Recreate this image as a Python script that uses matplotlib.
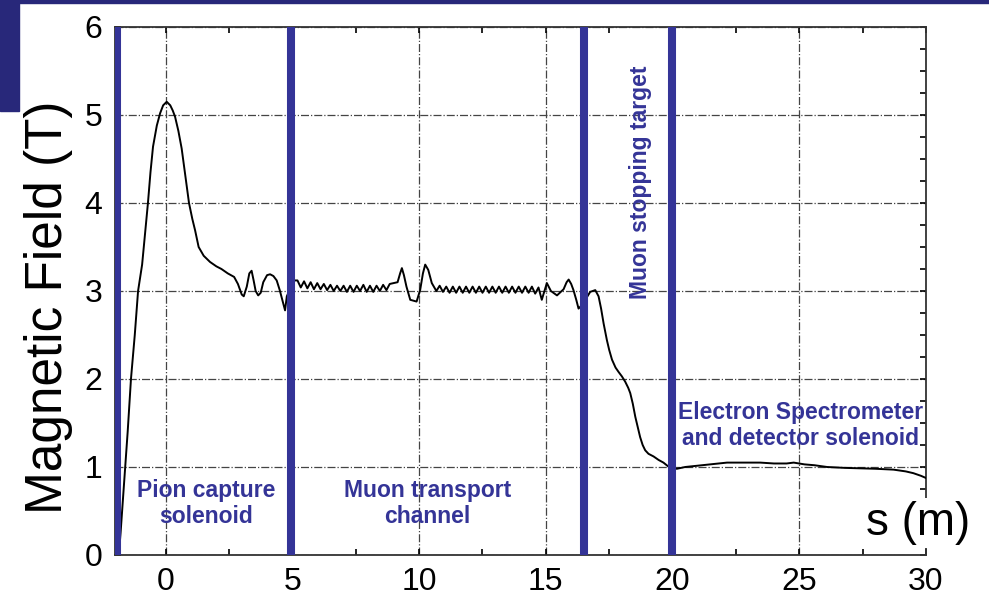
import matplotlib.pyplot as plt
import matplotlib.ticker as ticker
from matplotlib.patches import Rectangle

plt.rcParams['font.family'] = ['Liberation Sans', 'DejaVu Sans']

# field profile along the beam line
s = [-1.85, -1.78, -1.72, -1.66, -1.60, -1.50, -1.37, -1.22, -1.09, -0.93,
     -0.80, -0.70, -0.60, -0.50, -0.35, -0.22, -0.10, 0.04, 0.18, 0.28,
     0.37, 0.50, 0.63, 0.78, 0.92, 1.05, 1.16, 1.30, 1.50, 1.75,
     2.00, 2.20, 2.45, 2.70, 2.85, 3.00, 3.08, 3.20, 3.30, 3.39,
     3.47, 3.55, 3.65, 3.75, 3.85, 4.00, 4.12, 4.25, 4.38, 4.50,
     4.60, 4.71, 4.78, 4.95, 5.07,
     5.20, 5.33, 5.46, 5.59, 5.72, 5.85, 5.98, 6.11, 6.24, 6.37,
     6.50, 6.63, 6.76, 6.89, 7.02, 7.15, 7.28, 7.41, 7.54, 7.67,
     7.80, 7.93, 8.06, 8.19, 8.32, 8.45, 8.58, 8.71, 8.84, 8.99,
     9.15, 9.25, 9.32, 9.40, 9.50, 9.65, 9.90, 10.04, 10.15, 10.24,
     10.36, 10.50,
     10.68, 10.81, 10.94, 11.07, 11.20, 11.33, 11.46, 11.59, 11.72, 11.85,
     11.98, 12.11, 12.24, 12.37, 12.50, 12.63, 12.76, 12.89, 13.02, 13.15,
     13.28, 13.41, 13.54, 13.67, 13.80, 13.93, 14.06, 14.19, 14.32, 14.45,
     14.58, 14.71, 14.84, 15.04, 15.20, 15.44, 15.70, 15.82, 15.90, 16.00,
     16.09, 16.20, 16.29, 16.45, 16.75, 16.95, 17.08, 17.18, 17.28, 17.35,
     17.41, 17.50, 17.61, 17.75, 17.87, 18.00, 18.13, 18.25, 18.33, 18.43,
     18.53, 18.63, 18.72, 18.82, 18.92, 19.05, 19.25, 19.45, 19.64, 19.90,
     20.17, 20.50, 20.83, 21.50, 22.15, 22.80, 23.46, 24.00, 24.50, 24.78,
     25.20, 25.60, 26.10, 26.80, 27.41, 28.00, 28.72, 29.20, 29.50, 29.80,
     30.04]
B = [0.00, 0.25, 0.50, 0.75, 1.00, 1.40, 2.00, 2.50, 3.00, 3.30,
     3.70, 4.00, 4.35, 4.64, 4.88, 5.02, 5.11, 5.15, 5.11, 5.05,
     4.98, 4.82, 4.62, 4.30, 4.00, 3.82, 3.69, 3.50, 3.40, 3.33,
     3.28, 3.25, 3.20, 3.16, 3.08, 2.96, 2.94, 3.05, 3.20, 3.23,
     3.12, 3.00, 2.95, 2.98, 3.10, 3.18, 3.19, 3.17, 3.12, 3.01,
     2.90, 2.78, 2.94, 3.05, 3.12,
     3.12, 3.04, 3.11, 3.03, 3.10, 3.02, 3.09, 3.02, 3.08, 3.01,
     3.07, 3.00, 3.06, 3.00, 3.06, 2.99, 3.06, 2.99, 3.06, 3.00,
     3.07, 2.99, 3.06, 2.99, 3.06, 3.00, 3.07, 3.01, 3.08, 3.09,
     3.10, 3.20, 3.26, 3.18, 3.05, 2.90, 2.88, 3.01, 3.20, 3.30,
     3.24, 3.09,
     3.00, 3.06, 2.99, 3.05, 2.98, 3.05, 2.98, 3.05, 2.98, 3.05,
     2.98, 3.05, 2.98, 3.05, 2.98, 3.05, 2.98, 3.05, 2.98, 3.05,
     2.98, 3.05, 2.98, 3.05, 2.98, 3.05, 2.98, 3.05, 2.98, 3.05,
     2.97, 3.04, 2.90, 3.09, 3.00, 2.95, 3.02, 3.10, 3.13, 3.08,
     3.01, 2.90, 2.80, 2.85, 2.99, 3.01, 2.94, 2.80, 2.63, 2.53,
     2.44, 2.33, 2.22, 2.13, 2.08, 2.03, 1.97, 1.90, 1.84, 1.72,
     1.57, 1.45, 1.34, 1.25, 1.19, 1.15, 1.12, 1.08, 1.05, 0.99,
     0.98, 1.00, 1.01, 1.03, 1.05, 1.05, 1.05, 1.04, 1.04, 1.05,
     1.03, 1.02, 1.00, 0.99, 0.985, 0.98, 0.97, 0.95, 0.93, 0.90,
     0.87]

# section boundaries
walls = [-1.92, 4.95, 16.49, 19.97]
xticks = [0, 5, 10, 15, 20, 25, 30]
yticks = [0, 1, 2, 3, 4, 5, 6]

blue = '#343497'
navy = '#28287a'

fig = plt.figure(figsize=(9.89, 6.03), dpi=100)
ax = fig.add_axes([115/989, 1-555/603, 811/989, 528/603])

# slide decoration
fig.patches.append(Rectangle((0, 1-111/603), 19/989, 111/603, transform=fig.transFigure,
                             color=navy, zorder=0))
fig.patches.append(Rectangle((0, 1-2.5/603), 1, 2.5/603, transform=fig.transFigure,
                             color=navy, zorder=0))

ax.plot(s, B, color='black', lw=1.4, zorder=3)
for w in walls:
    ax.axvline(w, ymin=0.004, ymax=0.994, color=blue, lw=5.8, zorder=4)

ax.set_xlim(-2, 30)
ax.set_ylim(0, 6)
ax.set_xticks(xticks)
ax.set_yticks(yticks)
ax.xaxis.set_minor_locator(ticker.MultipleLocator(2.5))
ax.yaxis.set_minor_locator(ticker.MultipleLocator(0.25))
ax.tick_params(which='both', direction='in', top=True, right=True, length=4, width=1.2)
ax.tick_params(which='major', labelsize=23, pad=9)
ax.grid(True, which='major', color='#444444', ls='-.', lw=0.9)
for sp in ax.spines.values():
    sp.set_linewidth(1.3)
    sp.set_color('#333333')

ax.set_ylabel('Magnetic Field (T)', fontsize=37)
ax.yaxis.set_label_coords(-42/811, 0.47)

ax.text(918/989, 1-523/603, 's (m)', transform=fig.transFigure, fontsize=33,
        ha='center', va='center', zorder=6,
        bbox=dict(facecolor='white', edgecolor='none', pad=2))

lab = dict(color=blue, fontsize=16.5, fontweight='bold', ha='center', va='center',
           linespacing=1.2, zorder=5)
ax.text(1.6, 0.585, 'Pion capture\nsolenoid', **lab)
ax.text(10.33, 0.585, 'Muon transport\nchannel', **lab)
ax.text(18.72, 4.24, 'Muon stopping target', rotation=90, **lab)
ax.text(25.04, 1.47, 'Electron Spectrometer\nand detector solenoid', **lab)

fig.savefig('out.png', dpi=100)
